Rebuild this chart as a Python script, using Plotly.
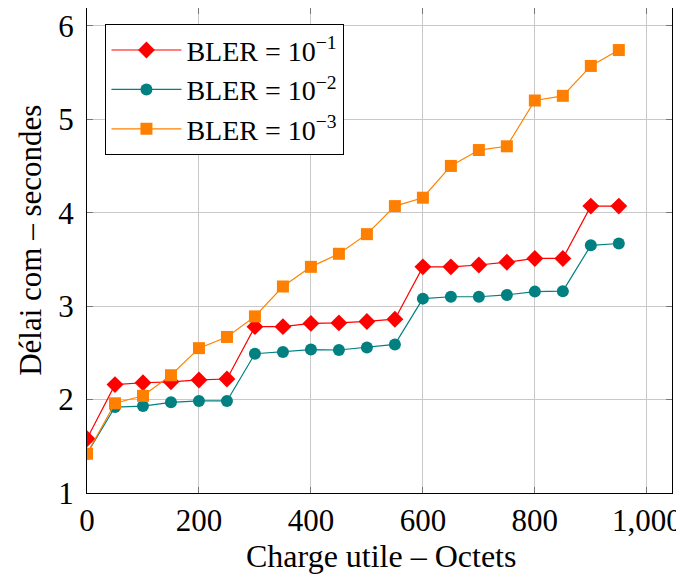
import plotly.graph_objects as go

payload = [0, 50, 100, 150, 200, 250, 300, 350, 400, 450, 500, 550, 600, 650, 700, 750, 800, 850, 900, 950]
bler_1 = [1.58, 2.16, 2.18, 2.19, 2.21, 2.22, 2.78, 2.78, 2.815, 2.82, 2.836, 2.86, 3.42, 3.42, 3.44, 3.47, 3.51, 3.51, 4.07, 4.07]
bler_2 = [1.42, 1.92, 1.93, 1.97, 1.985, 1.985, 2.49, 2.51, 2.535, 2.53, 2.556, 2.59, 3.08, 3.10, 3.10, 3.12, 3.155, 3.16, 3.65, 3.67]
bler_3 = [1.42, 1.96, 2.04, 2.26, 2.55, 2.67, 2.89, 3.21, 3.42, 3.56, 3.77, 4.07, 4.16, 4.50, 4.67, 4.71, 5.20, 5.25, 5.57, 5.74]
names = ["BLER = 10<sup>−1</sup>", "BLER = 10<sup>−2</sup>", "BLER = 10<sup>−3</sup>"]
x_ticks = [0, 200, 400, 600, 800, 1000]
x_tick_labels = ["0", "200", "400", "600", "800", "1,000"]
y_ticks = [1, 2, 3, 4, 5, 6]
x_title = "Charge utile – Octets"
y_title = "Délai com – secondes"

FONT = "Liberation Serif"
FS = 31

fig = go.Figure()
fig.add_trace(go.Scatter(x=payload, y=bler_1, name=names[0], mode="lines+markers",
                         line=dict(color="#FF0000", width=1.2),
                         marker=dict(symbol="diamond", size=13, color="#FF0000")))
fig.add_trace(go.Scatter(x=payload, y=bler_2, name=names[1], mode="lines+markers",
                         line=dict(color="#008080", width=1.2),
                         marker=dict(symbol="circle", size=12, color="#008080")))
fig.add_trace(go.Scatter(x=payload, y=bler_3, name=names[2], mode="lines+markers",
                         line=dict(color="#FF8000", width=1.2),
                         marker=dict(symbol="square", size=12, color="#FF8000")))

axis_common = dict(showgrid=True, gridcolor="#C8C8C8", gridwidth=1.2,
                   showline=True, linecolor="black", linewidth=1.3, mirror="ticks",
                   ticks="inside", ticklen=6, tickcolor="#777777", tickwidth=1,
                   zeroline=False, automargin=False,
                   tickfont=dict(family=FONT, size=FS, color="black"))

fig.update_xaxes(range=[0, 1045], tickvals=x_ticks, ticktext=x_tick_labels, **axis_common)
fig.update_yaxes(range=[1, 6.19], tickvals=y_ticks, ticklabelstandoff=6, **axis_common)

fig.add_annotation(text=x_title, xref="paper", yref="paper", x=0.502, y=-0.13,
                   xanchor="center", yanchor="middle", showarrow=False,
                   font=dict(family=FONT, size=32, color="black"))
fig.add_annotation(text=y_title, xref="paper", yref="paper", x=-0.0957, y=0.52,
                   xanchor="center", yanchor="middle", showarrow=False, textangle=-90,
                   font=dict(family=FONT, size=FS, color="black"))

fig.update_layout(
    width=676, height=569,
    margin=dict(l=79, r=12, t=0, b=84, autoexpand=False),
    plot_bgcolor="white", paper_bgcolor="white",
    font=dict(family=FONT, color="black"),
    legend=dict(x=0.031, y=0.967, xanchor="left", yanchor="top",
                bgcolor="white", bordercolor="black", borderwidth=1.3,
                font=dict(family=FONT, size=28, color="black"),
                itemwidth=70, tracegroupgap=0),
    showlegend=True,
)

fig.write_html("out.html")
